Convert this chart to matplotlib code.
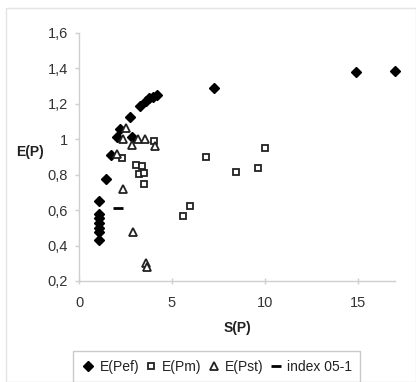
import matplotlib
matplotlib.use("Agg")
import matplotlib.pyplot as plt
from matplotlib.patches import Rectangle
from matplotlib.ticker import FuncFormatter

plt.rcParams['font.family'] = ['Liberation Sans', 'DejaVu Sans']

# Data
pef_x = [1.05, 1.05, 1.05, 1.05, 1.05, 1.05, 1.08, 1.45, 1.72, 2.05, 2.2, 2.85, 2.75, 3.27, 3.6, 3.79, 3.97, 4.2, 7.24, 14.9, 17.0]
pef_y = [0.43, 0.475, 0.50, 0.525, 0.553, 0.58, 0.65, 0.775, 0.91, 1.012, 1.06, 1.015, 1.127, 1.188, 1.218, 1.231, 1.24, 1.251, 1.289, 1.38, 1.387]

pm_x = [2.3, 3.07, 3.41, 3.25, 3.5, 3.5, 4.06, 5.57, 5.98, 6.83, 8.46, 9.63, 10.03]
pm_y = [0.892, 0.854, 0.85, 0.803, 0.807, 0.749, 0.988, 0.568, 0.624, 0.901, 0.813, 0.839, 0.95]

pst_x = [2.07, 2.55, 2.37, 2.86, 3.18, 3.54, 4.11, 2.39, 2.89, 3.59, 3.67]
pst_y = [0.918, 1.065, 1.0, 0.965, 1.003, 1.0, 0.96, 0.718, 0.474, 0.302, 0.28]

idx_x = [2.12]
idx_y = [0.61]

x_ticks = [0, 5, 10, 15]
y_ticks = [0.2, 0.4, 0.6, 0.8, 1.0, 1.2, 1.4, 1.6]

fig = plt.figure(figsize=(4.16, 3.82), dpi=100)
fig.patch.set_facecolor('white')
fig.add_artist(Rectangle((6/416, 0), 1 - 6/416, 1 - 8/382, transform=fig.transFigure,
                         fill=False, edgecolor='#e4e4e4', lw=1.0))

ax = fig.add_axes([79/416, 1 - 281/382, (395 - 79)/416, (281 - 33)/382])

ax.plot(pef_x, pef_y, linestyle='none', marker='D', markersize=5, color='black',
        label='E(Pef)', clip_on=False)
ax.plot(pm_x, pm_y, linestyle='none', marker='s', markersize=5, markerfacecolor='white',
        markeredgecolor='#222222', markeredgewidth=1.3, label='E(Pm)', clip_on=False)
ax.plot(pst_x, pst_y, linestyle='none', marker='^', markersize=5.8, markerfacecolor='white',
        markeredgecolor='#222222', markeredgewidth=1.3, label='E(Pst)', clip_on=False)
ax.plot(idx_x, idx_y, linestyle='none', marker='_', markersize=7, color='black',
        markeredgewidth=2, label='index 05-1', clip_on=False)

ax.set_xlim(0, 17)
ax.set_ylim(0.2, 1.6)
ax.set_xticks(x_ticks)
ax.set_yticks(y_ticks)

def comma_fmt(v, pos):
    s = ('%.1f' % v).rstrip('0').rstrip('.')
    return s.replace('.', ',')

ax.yaxis.set_major_formatter(FuncFormatter(comma_fmt))
ax.xaxis.set_major_formatter(FuncFormatter(lambda v, p: '%d' % v))

for side in ['top', 'right']:
    ax.spines[side].set_visible(False)
for side in ['left', 'bottom']:
    ax.spines[side].set_color('#cfcfcf')
    ax.spines[side].set_linewidth(1.0)

ax.tick_params(axis='both', colors='#cfcfcf', labelcolor='#333333', labelsize=10.5,
               length=3, width=1.0)
ax.tick_params(axis='x', direction='inout', length=5, pad=8)
ax.tick_params(axis='y', direction='out', pad=5)

ax.set_xlabel('S(P)', fontsize=10, fontweight='bold', color='#222222', labelpad=8)
ax.set_ylabel('E(P)', fontsize=10, fontweight='bold', color='#222222', rotation=0,
              labelpad=0)
ax.yaxis.set_label_coords(-0.155, 0.49)

leg = fig.legend(loc='lower left', bbox_to_anchor=(73/416, 0.0, (360 - 73)/416, 29/382),
                 ncol=4, mode='expand', frameon=True, fancybox=False, fontsize=10,
                 handletextpad=0.3, columnspacing=0.8, borderaxespad=0,
                 handlelength=1.0, borderpad=0.6)
leg.get_frame().set_edgecolor('#bdbdbd')
leg.get_frame().set_linewidth(1.0)
for t in leg.get_texts():
    t.set_color('#222222')

fig.savefig('out.png', dpi=100, facecolor='white')
